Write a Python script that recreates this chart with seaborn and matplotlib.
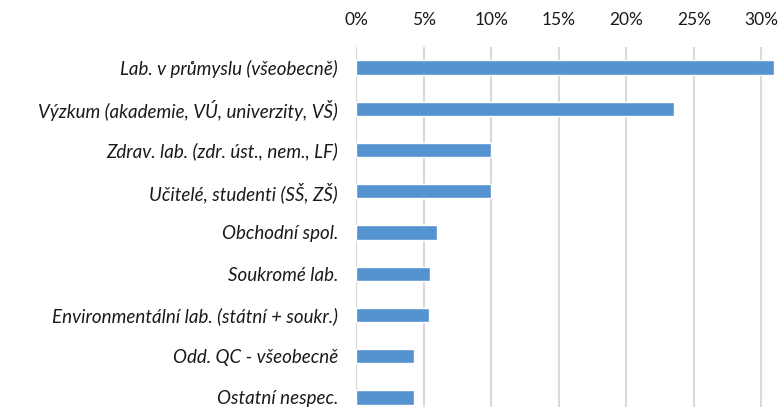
import pandas as pd
import matplotlib.pyplot as plt
import matplotlib.ticker as mticker
import seaborn as sns

categories = [
    "Lab. v průmyslu (všeobecně)",
    "Výzkum (akademie, VÚ, univerzity, VŠ)",
    "Zdrav. lab. (zdr. úst., nem., LF)",
    "Učitelé, studenti (SŠ, ZŠ)",
    "Obchodní spol.",
    "Soukromé lab.",
    "Environmentální lab. (státní + soukr.)",
    "Odd. QC - všeobecně",
    "Ostatní nespec.",
]
shares = [0.309, 0.235, 0.100, 0.100, 0.060, 0.055, 0.054, 0.043, 0.043]
x_ticks = [0, 0.05, 0.10, 0.15, 0.20, 0.25, 0.30]

sns.set_style("white")
plt.rcParams['font.family'] = ['Lato', 'DejaVu Sans']

df = pd.DataFrame({"kategorie": categories, "podil": shares})

fig = plt.figure(figsize=(7.81, 4.07), dpi=100)
ax = fig.add_axes([0.4558, -0.027, 0.5365, 0.9115])

sns.barplot(data=df, x="podil", y="kategorie", orient="h", color="#5592d0",
            saturation=1, width=0.35, ax=ax, zorder=3)

ax.set_xlim(0, 0.31)
ax.set_ylim(8.5, -0.5)
ax.set_xticks(x_ticks)
ax.xaxis.set_major_formatter(mticker.PercentFormatter(1.0, decimals=0))
ax.xaxis.tick_top()
ax.tick_params(axis="x", length=0, pad=14, labelsize=12.5, colors="#1a1a1a")
ax.tick_params(axis="y", length=0, pad=13, labelsize=13.5, colors="#1a1a1a")
for lbl in ax.get_yticklabels():
    lbl.set_fontstyle("italic")
ax.grid(axis="x", color="#d9d9d9", linewidth=1.5, zorder=0)
ax.set_axisbelow(True)
for s in ax.spines.values():
    s.set_visible(False)
ax.set_xlabel("")
ax.set_ylabel("")

fig.savefig("out.png", dpi=100)
